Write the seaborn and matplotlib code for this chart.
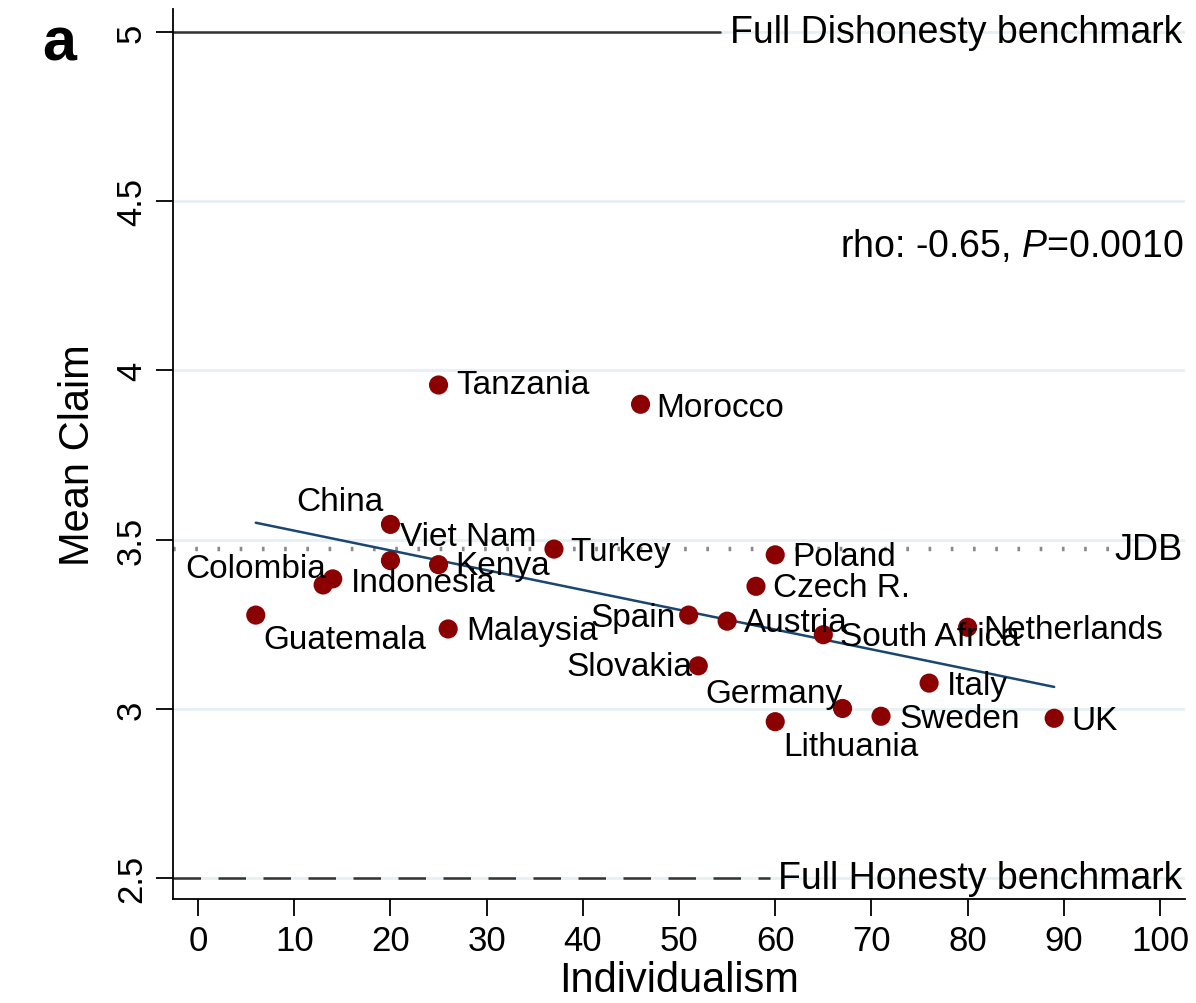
import matplotlib
matplotlib.use("Agg")
import matplotlib.pyplot as plt
import seaborn as sns
import pandas as pd

# ---- data ----
countries = ["Tanzania", "Morocco", "China", "Viet Nam", "Kenya", "Colombia",
             "Indonesia", "Guatemala", "Malaysia", "Turkey", "Poland", "Czech R.",
             "Spain", "Austria", "South Africa", "Netherlands", "Slovakia", "Italy",
             "Germany", "Sweden", "UK", "Lithuania"]
individualism = [25, 46, 20, 20, 25, 13, 14, 6, 26, 37, 60, 58,
                 51, 55, 65, 80, 52, 76, 67, 71, 89, 60]
mean_claim = [3.957, 3.900, 3.545, 3.438, 3.426, 3.366, 3.384, 3.277, 3.236,
              3.472, 3.455, 3.362, 3.277, 3.259, 3.219, 3.241, 3.127, 3.076,
              3.001, 2.978, 2.972, 2.962]
x_ticks = [0, 10, 20, 30, 40, 50, 60, 70, 80, 90, 100]
y_ticks = [2.5, 3, 3.5, 4, 4.5, 5]
y_tick_labels = ["2.5", "3", "3.5", "4", "4.5", "5"]
full_dishonesty = 5.0
full_honesty = 2.5
jdb = 3.472
stat_text = "rho: -0.65, $\\it{P}$=0.0010"

# label placement (offset pixels, alignment)
label_dx = [18, 16, -7, 10, 17, 3, 18, 8, 18, 16, 17, 17, -13, 17, 17, 16, -6, 18, 0, 18, 17, 8]
label_dy = [0, -3, 23, 24, -1, 16, -4, -24, -2, -2, -2, -1, -2, -1, -2, -2, -1, -2, 15, -2, -2, -25]
label_ha = ["left", "left", "right", "left", "left", "right", "left", "left", "left",
            "left", "left", "left", "right", "left", "left", "left", "right", "left",
            "right", "left", "left", "left"]

df = pd.DataFrame({"country": countries, "Individualism": individualism,
                   "Mean Claim": mean_claim})

sns.set_theme(style="white")
plt.rcParams["font.family"] = ["Liberation Sans", "DejaVu Sans"]
plt.rcParams["mathtext.fontset"] = "custom"
plt.rcParams["mathtext.it"] = "Liberation Sans:italic"
plt.rcParams["mathtext.rm"] = "Liberation Sans"
plt.rcParams["text.color"] = "black"
plt.rcParams["axes.labelcolor"] = "black"
plt.rcParams["xtick.color"] = "black"
plt.rcParams["ytick.color"] = "black"

fig = plt.figure(figsize=(11.96, 10.04), dpi=100)
ax = fig.add_axes([0.1447, 0.1036, 0.8461, 0.8864])

xlim = (-2.6, 102.6)
ylim = (2.438, 5.068)
ax.set_xlim(*xlim)
ax.set_ylim(*ylim)

# gridlines
for yv in y_ticks:
    ax.axhline(yv, color="#e6f0f2", lw=2, zorder=0)

# benchmark lines
def xfrac(v):
    return (v - xlim[0]) / (xlim[1] - xlim[0])

ax.axhline(full_dishonesty, xmin=0, xmax=xfrac(54.3), color="#333333", lw=1.8, zorder=1)
ax.text(55.3, full_dishonesty, "Full Dishonesty benchmark", ha="left", va="center",
        fontsize=27, color="black")
ax.axhline(full_honesty, xmin=0, xmax=xfrac(59.5), color="#333333", lw=1.8,
           dashes=(11, 7), zorder=1)
ax.text(60.3, full_honesty, "Full Honesty benchmark", ha="left", va="center",
        fontsize=27, color="black")
ax.axhline(jdb, xmin=0, xmax=xfrac(94.8), color="#8a8a8a", lw=3.2,
           dashes=(0.6, 4.4), zorder=1)
ax.text(102.4, jdb, "JDB", ha="right", va="center", fontsize=26, color="black")

# fit line
sns.regplot(data=df, x="Individualism", y="Mean Claim", scatter=False, ci=None,
            truncate=True, line_kws=dict(color="#1a476f", lw=1.8, zorder=2), ax=ax)

# points
sns.scatterplot(data=df, x="Individualism", y="Mean Claim", color="#8b0000",
                s=190, edgecolor="none", linewidth=0, zorder=3, ax=ax, legend=False)

for c, xv, yv, dx, dy, ha in zip(countries, individualism, mean_claim,
                                  label_dx, label_dy, label_ha):
    ax.annotate(c, (xv, yv), xytext=(dx, dy), textcoords="offset pixels",
                ha=ha, va="center", fontsize=24, color="black", zorder=4)

ax.text(102.4, 4.37, stat_text, ha="right", va="center", fontsize=27, color="black")

# axes styling
for s in ["top", "right"]:
    ax.spines[s].set_visible(False)
for s in ["left", "bottom"]:
    ax.spines[s].set_color("black")
    ax.spines[s].set_linewidth(1.3)

ax.set_xticks(x_ticks)
ax.set_xticklabels([str(v) for v in x_ticks])
ax.set_yticks(y_ticks)
ax.set_yticklabels(y_tick_labels, rotation=90, va="center")
ax.tick_params(axis="both", direction="out", length=12, width=1.3, colors="black",
               labelsize=25, bottom=True, left=True, pad=6)
ax.set_xlabel("Individualism", fontsize=30, labelpad=2, color="black")
ax.set_ylabel("Mean Claim", fontsize=30, labelpad=12, color="black")

fig.text(0.035, 0.955, "a", fontsize=44, fontweight="bold", ha="left", va="center",
         color="black")

fig.savefig("out.png", dpi=100)
